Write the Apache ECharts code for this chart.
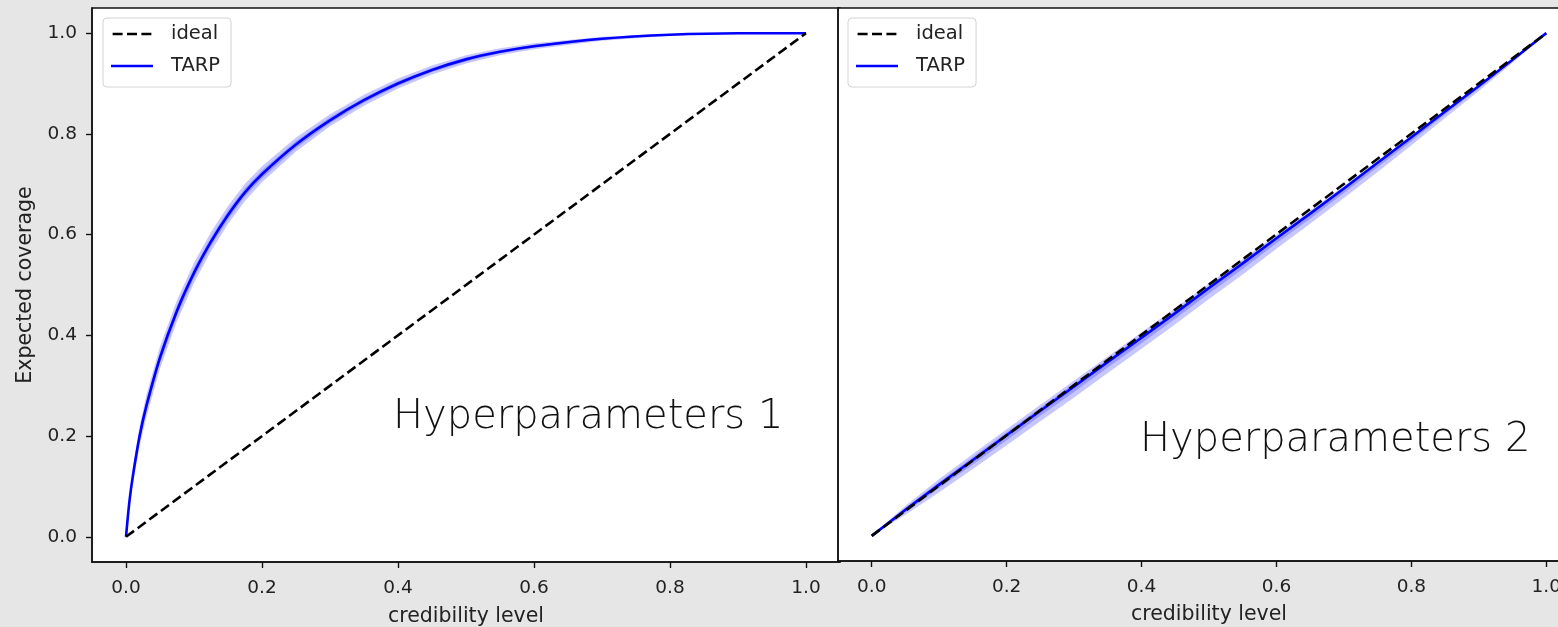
<!DOCTYPE html>
<html>
<head>
<meta charset="utf-8">
<script src="https://cdn.jsdelivr.net/npm/echarts@6/dist/echarts.min.js"></script>
<style>
html,body{margin:0;padding:0;background:#e6e6e6;}
#chart{width:1558px;height:627px;}
</style>
</head>
<body>
<div id="chart"></div>
<script>
// ---------- data ----------
const tickValues = [0, 0.2, 0.4, 0.6, 0.8, 1.0];
const idealX = [0, 1];
const idealY = [0, 1];

// Panel 1 (Hyperparameters 1)
const xs1 = [0, 0.005, 0.01, 0.02, 0.03, 0.05, 0.075, 0.1, 0.125, 0.15, 0.175, 0.2, 0.25, 0.3, 0.35, 0.4, 0.45, 0.5, 0.55, 0.6, 0.7, 0.8, 0.9, 1.0];
const tarp1 = [0, 0.07, 0.12, 0.20, 0.26, 0.356, 0.449, 0.524, 0.586, 0.639, 0.684, 0.720, 0.779, 0.827, 0.867, 0.900, 0.927, 0.948, 0.963, 0.974, 0.989, 0.997, 1.0, 1.0];
const band1Outer = [0, 0.010, 0.016, 0.020, 0.022, 0.022, 0.021, 0.020, 0.019, 0.018, 0.017, 0.016, 0.014, 0.012, 0.011, 0.010, 0.009, 0.008, 0.007, 0.006, 0.004, 0.002, 0.001, 0];
const band1Inner = [0, 0.005, 0.008, 0.010, 0.011, 0.011, 0.010, 0.010, 0.009, 0.009, 0.008, 0.008, 0.007, 0.006, 0.005, 0.005, 0.004, 0.004, 0.003, 0.003, 0.002, 0.001, 0, 0];

// Panel 2 (Hyperparameters 2)
const xs2 = [0, 0.05, 0.1, 0.15, 0.2, 0.25, 0.3, 0.35, 0.4, 0.45, 0.5, 0.55, 0.6, 0.65, 0.7, 0.75, 0.8, 0.85, 0.9, 0.95, 1.0];
const tarp2 = [0, 0.052, 0.102, 0.151, 0.200, 0.249, 0.297, 0.346, 0.394, 0.443, 0.493, 0.542, 0.592, 0.641, 0.691, 0.742, 0.793, 0.844, 0.895, 0.947, 1.0];
const band2OuterLo = [0, 0.010, 0.015, 0.018, 0.020, 0.021, 0.022, 0.022, 0.022, 0.022, 0.022, 0.022, 0.021, 0.020, 0.019, 0.018, 0.016, 0.013, 0.010, 0.006, 0];
const band2OuterHi = [0, 0.008, 0.011, 0.012, 0.012, 0.012, 0.012, 0.011, 0.011, 0.010, 0.009, 0.008, 0.007, 0.006, 0.005, 0.004, 0.004, 0.003, 0.002, 0.001, 0];
const band2InnerLo = [0, 0.005, 0.007, 0.009, 0.010, 0.010, 0.011, 0.011, 0.011, 0.011, 0.011, 0.011, 0.010, 0.010, 0.009, 0.009, 0.008, 0.006, 0.005, 0.003, 0];
const band2InnerHi = [0, 0.004, 0.005, 0.006, 0.006, 0.006, 0.006, 0.005, 0.005, 0.005, 0.004, 0.004, 0.003, 0.003, 0.002, 0.002, 0.002, 0.001, 0.001, 0, 0];

// ---------- helpers ----------
const FONT = 'DejaVu Sans';
const TXT = '#222';
const BLUE = '#0000ff';
const BAND = 'rgba(0,0,255,0.22)';

function pairs(xs, ys) { return xs.map((x, i) => [x, ys[i]]); }

function band(gi, xs, center, lo, hi) {
  return {
    type: 'custom', xAxisIndex: gi, yAxisIndex: gi, silent: true, z: 1, clip: true,
    data: xs.map((x, i) => [x, center[i] - lo[i], center[i] + hi[i]]),
    encode: { x: 0, y: [1, 2] },
    renderItem: function (params, api) {
      if (params.dataIndex !== 0) return null;
      const pts = [];
      for (let i = 0; i < xs.length; i++) pts.push(api.coord([xs[i], center[i] + hi[i]]));
      for (let i = xs.length - 1; i >= 0; i--) pts.push(api.coord([xs[i], center[i] - lo[i]]));
      return { type: 'polygon', shape: { points: pts }, style: { fill: BAND } };
    }
  };
}

function xAxis(gi) {
  return {
    type: 'value', gridIndex: gi, min: -0.05, max: 1.05,
    name: 'credibility level', nameLocation: 'middle', nameGap: gi === 0 ? 44 : 43,
    nameTextStyle: { fontFamily: FONT, fontSize: 20.5, color: TXT },
    axisLine: { show: true, onZero: false, lineStyle: { color: '#111', width: 1.5 } },
    axisTick: { show: true, length: 6, customValues: tickValues, lineStyle: { color: '#111', width: 1.4 } },
    axisLabel: { customValues: tickValues, margin: 17, fontFamily: FONT, fontSize: 18.5, color: TXT,
      formatter: v => Number(v).toFixed(1) },
    splitLine: { show: false }
  };
}

function yAxis(gi, showLabels) {
  return {
    type: 'value', gridIndex: gi, min: -0.05, max: 1.05,
    name: showLabels ? 'Expected coverage' : '', nameLocation: 'middle', nameGap: 56, nameRotate: 90,
    nameTextStyle: { fontFamily: FONT, fontSize: 20.5, color: TXT },
    axisLine: { show: true, onZero: false, lineStyle: { color: '#111', width: 1.5 } },
    axisTick: { show: showLabels, length: 6, customValues: tickValues, lineStyle: { color: '#111', width: 1.4 } },
    axisLabel: { show: showLabels, customValues: tickValues, margin: 15, fontFamily: FONT, fontSize: 18.5, color: TXT,
      formatter: v => Number(v).toFixed(1) },
    splitLine: { show: false }
  };
}

const dashIcon = 'path://M0,0h10v2.6h-10z M14.4,0h10v2.6h-10z M28.8,0h10v2.6h-10z';
const solidIcon = 'path://M0,0h42v2.6h-42z';

function legend(left) {
  return {
    data: [{ name: 'ideal', icon: dashIcon }, { name: 'TARP', icon: solidIcon }],
    orient: 'vertical', left: left, top: 18,
    backgroundColor: '#fff', borderColor: '#d3d3d3', borderWidth: 1, borderRadius: 4,
    padding: [5, 11, 10, 8], itemGap: 10, itemWidth: 42, itemHeight: 2.6,
    textStyle: { fontFamily: FONT, fontSize: 19.5, color: TXT, lineHeight: 22, padding: [0, 0, 0, 13] },
    selectedMode: false
  };
}

function lines(gi, xs, tarp, smooth) {
  return [
    { name: 'ideal', type: 'line', xAxisIndex: gi, yAxisIndex: gi, data: pairs(idealX, idealY),
      symbol: 'none', z: 4, lineStyle: { color: '#000', width: 2.6, type: [10, 4.5] }, itemStyle: { color: '#000' } },
    { name: 'TARP', type: 'line', xAxisIndex: gi, yAxisIndex: gi, data: pairs(xs, tarp),
      symbol: 'none', smooth: smooth, z: 3, lineStyle: { color: BLUE, width: 2.6 }, itemStyle: { color: BLUE } }
  ];
}

const series = [].concat(
  [band(0, xs1, tarp1, band1Outer, band1Outer), band(0, xs1, tarp1, band1Inner, band1Inner)],
  lines(0, xs1, tarp1, 0.3),
  [band(1, xs2, tarp2, band2OuterLo, band2OuterHi), band(1, xs2, tarp2, band2InnerLo, band2InnerHi)],
  lines(1, xs2, tarp2, false)
);

const chart = echarts.init(document.getElementById('chart'), null, { renderer: 'canvas' });
chart.setOption({
  animation: false,
  backgroundColor: '#e6e6e6',
  grid: [
    { left: 92, top: 8, width: 748, height: 554, outerBoundsMode: 'none', containLabel: false,
      show: true, backgroundColor: '#fff', borderColor: '#111', borderWidth: 1.5 },
    { left: 838, top: 8, width: 742, height: 553, outerBoundsMode: 'none', containLabel: false,
      show: true, backgroundColor: '#fff', borderColor: '#111', borderWidth: 1.5 }
  ],
  xAxis: [xAxis(0), xAxis(1)],
  yAxis: [yAxis(0, true), yAxis(1, false)],
  legend: [legend(103), legend(848)],
  series: series,
  graphic: [
    { type: 'text', left: 393, top: 398, z: 10,
      style: { text: 'Hyperparameters 1', fontFamily: FONT, fontSize: 40, fontWeight: 300, fill: '#111' } },
    { type: 'text', left: 1140, top: 421, z: 10,
      style: { text: 'Hyperparameters 2', fontFamily: FONT, fontSize: 40, fontWeight: 300, fill: '#111' } }
  ]
});
</script>
</body>
</html>
